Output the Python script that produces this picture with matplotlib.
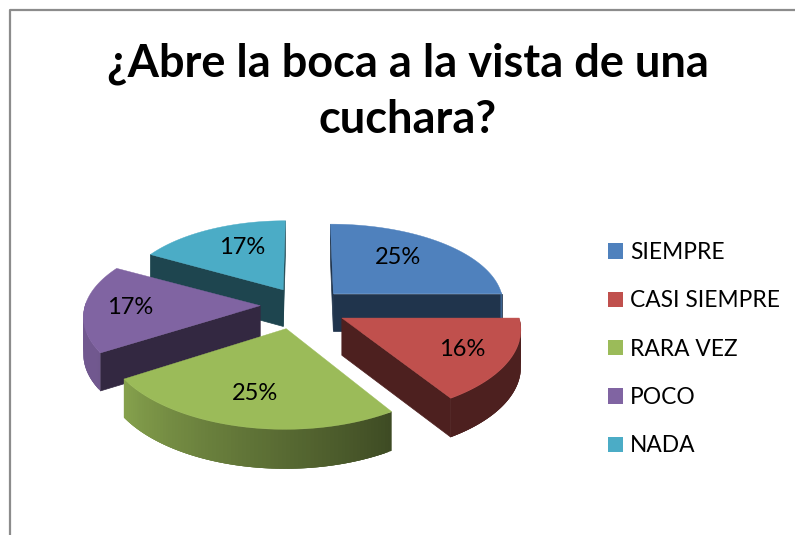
import numpy as np
import matplotlib
matplotlib.use('Agg')
import matplotlib.pyplot as plt
from matplotlib.patches import Patch
from matplotlib.colors import to_rgb

plt.rcParams['font.family'] = ['Lato', 'DejaVu Sans']

categories = ['SIEMPRE', 'CASI SIEMPRE', 'RARA VEZ', 'POCO', 'NADA']
values = [25, 16, 25, 17, 17]
colors = ['#4F81BD', '#C0504D', '#9BBB59', '#8064A2', '#4BACC6']
title = '¿Abre la boca a la vista de una\ncuchara?'

# donde van los porcentajes, en pixeles
label_xy = [(398, 257), (462, 350), (255, 393), (130, 308), (242, 248)]

# ajuste fino de cada porcion: desplazamiento en pixeles y ancho relativo
nudge_x = [0, 0, -7, 1, 2]
nudge_y = [0, 0, 0, -3, -1]
width_k = [0.98, 1, 1, 1, 0.94]

# parametros de la proyeccion
CX, CY = 303, 308
A, B = 175, 82
KX, KY = 0.11, 0.128
EXPLODE = 0.25
DEPTH = 37


def project(x, y):
    px = CX + A * x / (1 + KX * y)
    py = CY - B * y / (1 + KY * y)
    return px, py


def depth_at(y):
    return DEPTH / (1 + 0.05 * y)


def shade(rgb, f):
    return tuple(c * f for c in rgb)


def rim_factor(deg):
    # mas claro a la izquierda, mas oscuro a la derecha
    d = ((deg + 180) % 360) - 180
    if d > 0:
        d -= 360
    return float(np.interp(d, [-210, -150, -57, 0], [0.88, 0.88, 0.40, 0.40]))


fig = plt.figure(figsize=(7.95, 5.35), dpi=100)
ax = fig.add_axes([0, 0, 1, 1])
ax.set_xlim(0, 795)
ax.set_ylim(535, 0)
ax.axis('off')

# marco gris
ax.plot([795, 10, 10], [10, 10, 535], color='#8C8C8C', lw=1.6)

shares = np.array(values) / sum(values) * 360
starts = 90 - np.concatenate([[0], np.cumsum(shares)[:-1]])
ends = starts - shares

# de atras hacia adelante
for i in [4, 0, 3, 1, 2]:
    rgb = to_rgb(colors[i])
    mid = np.radians((starts[i] + ends[i]) / 2)
    ox, oy = EXPLODE * np.cos(mid), EXPLODE * np.sin(mid)
    t = np.radians(np.linspace(starts[i], ends[i], 80))
    wx = ox + np.cos(t) * width_k[i]
    wy = oy + np.sin(t)
    px, py = project(wx, wy)
    ax0, ay0 = project(ox, oy)
    px = px + nudge_x[i]
    py = py + nudge_y[i]
    ax0 = ax0 + nudge_x[i]
    ay0 = ay0 + nudge_y[i]
    d = depth_at(wy)
    d0 = depth_at(oy)

    # caras de corte que miran al frente
    dark = shade(rgb, 0.40)
    for j, normal in [(0, t[0] + np.pi / 2), (-1, t[-1] - np.pi / 2)]:
        if np.sin(normal) < 0.05:
            ax.fill([ax0, px[j], px[j], ax0],
                    [ay0, py[j], py[j] + d[j], ay0 + d0],
                    color=dark, lw=0.5)

    # borde exterior con degradado; cada tramo pisa al siguiente para evitar rayas
    for k in range(len(t) - 1):
        if np.sin(t[k]) > 0.02 and np.sin(t[k + 1]) > 0.02:
            continue
        f = rim_factor(np.degrees(t[k]))
        n = min(k + 3, len(t) - 1)
        ax.fill([px[k], px[n], px[n], px[k]],
                [py[k], py[n], py[n] + d[n], py[k] + d[k]],
                color=shade(rgb, f), lw=0)

    # cara superior
    ax.fill(np.r_[ax0, px], np.r_[ay0, py], color=rgb, lw=0.3)

for (lx, ly), v in zip(label_xy, values):
    ax.text(lx, ly, f'{v}%', fontsize=17, color='black', ha='center', va='center')

ax.text(408, 92, title, fontsize=32.5, fontweight='bold', color='black',
        ha='center', va='center', linespacing=1.41)

handles = [Patch(facecolor=c, edgecolor='none') for c in colors]
ax.legend(handles, categories, loc='upper left', bbox_to_anchor=(608, 242),
          bbox_transform=ax.transData, frameon=False, fontsize=16.4,
          handlelength=0.66, handleheight=0.66, handletextpad=0.3,
          labelspacing=1.2, borderaxespad=0, borderpad=0)

fig.savefig('out.png', dpi=100)
